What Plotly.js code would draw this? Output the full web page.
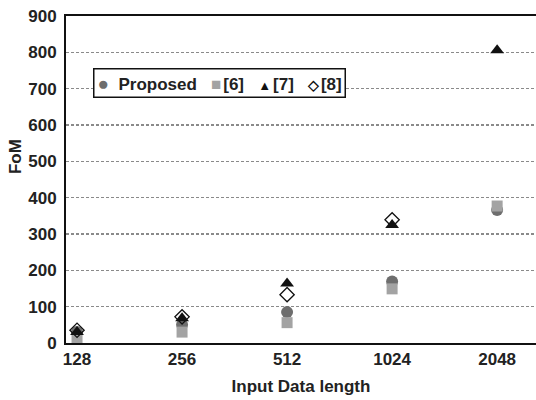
<!DOCTYPE html>
<html><head><meta charset="utf-8">
<script src="https://cdn.plot.ly/plotly-3.0.1.min.js"></script>
<style>html,body{margin:0;padding:0;background:#fff}</style>
</head><body><div id="chart" style="width:536px;height:400px"></div>
<script>
const categories = ["128", "256", "512", "1024", "2048"];
const proposed = [30, 50, 85, 169, 366];
const ref6 = [10, 30, 56, 149, 377];
const ref7 = [30, 68, 164, 325, 806];
const ref8 = [35, 72, 133, 339, null];
const yTicks = [0, 100, 200, 300, 400, 500, 600, 700, 800, 900];
const seriesNames = ["Proposed", "[6]", "[7]", "[8]"];

const fontFam = '"Liberation Sans", Arial, sans-serif';
const txt = {family: fontFam, size: 17, color: '#222', weight: 'bold'};
const traces = [
  {name: seriesNames[0], x: categories, y: proposed, type: 'scatter', mode: 'markers',
   marker: {symbol: 'circle', size: 12, color: '#6e6e6e'}},
  {name: seriesNames[1], x: categories, y: ref6, type: 'scatter', mode: 'markers',
   marker: {symbol: 'square', size: 11, color: '#a3a3a3'}},
  {name: seriesNames[3], x: categories, y: ref8, type: 'scatter', mode: 'markers',
   marker: {symbol: 'diamond-open', size: 11, color: '#111', line: {width: 1.3}}},
  {name: seriesNames[2], x: categories, y: ref7, type: 'scatter', mode: 'markers',
   marker: {symbol: 'triangle-up', size: 12, color: '#111'}}
];

// legend drawn as one boxed text line, like the original
const legendGlyphs = [
  ['●', '#6e6e6e', 19], ['■', '#a3a3a3', 17], ['▲', '#111', 13], ['◇', '#111', 14]
];
const smallGap = '<span style="font-size:7px">&nbsp;</span>';
const gaps = ['&nbsp;&nbsp;', smallGap, smallGap, smallGap];
const legendText = seriesNames.map((n, i) =>
  '<span style="color:' + legendGlyphs[i][1] + ';font-size:' + legendGlyphs[i][2] + 'px">' +
  legendGlyphs[i][0] + '</span>' + gaps[i] + n).join('&nbsp;&nbsp;&nbsp;');

const layout = {
  width: 536, height: 400,
  margin: {l: 66, r: 0, t: 16, b: 57},
  paper_bgcolor: '#fff', plot_bgcolor: '#fff',
  font: txt,
  showlegend: false,
  xaxis: {type: 'category', range: [-0.105, 4.37], showline: true, linecolor: '#111', linewidth: 2,
    mirror: true, showgrid: false, zeroline: false, ticks: '', fixedrange: true,
    tickfont: txt,
    title: {text: 'Input Data length', standoff: 12, font: txt}},
  yaxis: {range: [0, 900], tickvals: yTicks, showline: true, linecolor: '#111', linewidth: 2,
    showgrid: true, gridcolor: '#8a8a8a', griddash: '3px,2px', gridwidth: 1.3, zeroline: false,
    ticks: '', ticklabelstandoff: 4, tickfont: txt},
  annotations: [
    {text: 'FoM', xref: 'paper', yref: 'paper', x: -0.106, y: 0.569,
     textangle: -90, showarrow: false, xanchor: 'center', yanchor: 'middle', font: txt},
    {text: legendText, xref: 'paper', yref: 'paper', x: 0.057, y: 0.841,
     xanchor: 'left', yanchor: 'top', showarrow: false, align: 'left',
     bgcolor: '#fff', bordercolor: '#111', borderwidth: 1.5, borderpad: 3, font: txt}
  ]
};

Plotly.newPlot('chart', traces, layout, {displayModeBar: false, staticPlot: true});
</script>
</body></html>
